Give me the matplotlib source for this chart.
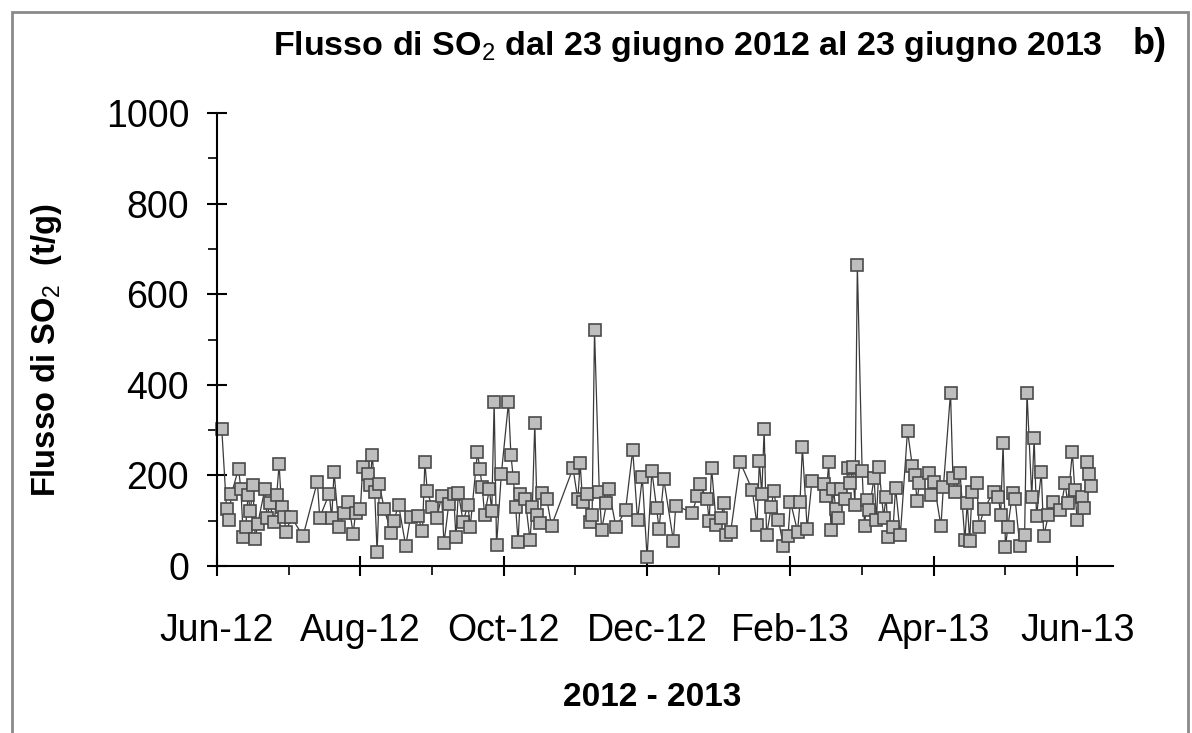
import matplotlib.pyplot as plt
from matplotlib.patches import Rectangle

plt.rcParams['font.family'] = ['Liberation Sans', 'DejaVu Sans']
plt.rcParams['mathtext.fontset'] = 'custom'
plt.rcParams['mathtext.rm'] = 'Liberation Sans'
plt.rcParams['mathtext.bf'] = 'Liberation Sans:bold'

# giorni dal 23 giugno 2012
days = [2, 4, 5, 6, 9, 10, 11, 12, 13, 14, 15, 16, 17, 20, 21, 22, 24, 25, 26, 27, 28, 29, 31, 36, 42, 43,
        47, 48, 49, 51, 53, 55, 57, 58, 60, 61, 63, 64, 65, 66, 67, 68, 70, 73, 74, 76, 79, 81, 84, 86, 87,
        88, 90, 92, 94, 95, 97, 99, 100, 101, 103, 105, 106, 109, 110, 111, 112, 114, 115, 116, 117, 119,
        122, 123, 124, 125, 126, 127, 129, 131, 132, 133, 134, 135, 136, 138, 140, 149, 151, 152, 153, 155,
        156, 157, 158, 160, 161, 163, 164, 167, 171, 174, 176, 178, 180, 182, 184, 185, 187, 191, 192, 199,
        201, 202, 205, 206, 207, 209, 211, 212, 213, 215, 219, 224, 226, 227, 228, 229, 230, 232, 233, 235,
        237, 239, 240, 243, 244, 245, 247, 249, 254, 255, 256, 257, 258, 259, 260, 261, 263, 264, 265, 266,
        267, 268, 270, 271, 272, 273, 275, 276, 277, 279, 280, 281, 283, 284, 286, 289, 291, 292, 293, 294,
        298, 299, 300, 303, 304, 307, 308, 309, 311, 313, 314, 315, 316, 318, 319, 321, 325, 327, 328, 329,
        330, 331, 333, 334, 336, 338, 339, 341, 342, 343, 345, 346, 348, 350, 353, 355, 356, 358, 359, 360,
        362, 363, 364, 365, 366]
# flusso di SO2 (t/g)
flux = [302, 125, 101, 158, 215, 170, 63, 85, 157, 121, 179, 59, 92, 169, 105, 138, 98, 157, 225, 130, 109,
        74, 109, 66, 186, 107, 160, 105, 208, 85, 118, 141, 71, 118, 125, 219, 203, 179, 246, 164, 30, 180,
        125, 72, 99, 135, 44, 109, 111, 77, 229, 166, 130, 105, 155, 50, 137, 160, 63, 162, 98, 135, 87, 251,
        214, 175, 113, 169, 122, 363, 46, 203, 361, 246, 194, 130, 52, 160, 148, 57, 131, 316, 113, 96, 162,
        148, 89, 216, 147, 227, 142, 158, 98, 113, 521, 164, 80, 138, 169, 85, 124, 256, 101, 196, 19, 210,
        127, 82, 191, 56, 133, 118, 155, 182, 149, 99, 216, 91, 105, 138, 68, 76, 229, 168, 91, 232, 158, 302,
        68, 131, 166, 102, 45, 67, 142, 76, 141, 262, 82, 187, 180, 155, 229, 79, 169, 125, 107, 171, 148,
        216, 184, 219, 135, 665, 210, 89, 146, 124, 195, 101, 219, 107, 153, 65, 87, 173, 68, 299, 221, 201,
        144, 183, 205, 157, 185, 88, 174, 383, 195, 164, 205, 57, 140, 55, 164, 183, 87, 125, 164, 153, 113,
        271, 41, 87, 162, 149, 44, 68, 383, 153, 282, 110, 207, 66, 113, 142, 124, 183, 138, 251, 168, 102,
        153, 127, 229, 203, 177]

tick_days = [0, 60, 120, 180, 240, 300, 360]
tick_labels = ["Jun-12", "Aug-12", "Oct-12", "Dec-12", "Feb-13", "Apr-13", "Jun-13"]

W, H = 1192, 733
fig = plt.figure(figsize=(W / 100, H / 100), dpi=100)
fig.patches.append(Rectangle((12 / W, -0.1), 1176 / W, 1.1 - 12 / H, transform=fig.transFigure,
                             fill=False, edgecolor="#8a8a8a", lw=2))

ax = fig.add_axes([217 / W, 167 / H, 896 / W, 453 / H])
ax.plot(days, flux, "-", color="#3a3a3a", lw=0.9, marker="s", ms=9.3, mfc="#bebebe", mec="#4a4a4a",
        mew=1.2, clip_on=False)

ax.set_xlim(0, 375)
ax.set_ylim(0, 1000)
ax.spines["top"].set_visible(False)
ax.spines["right"].set_visible(False)
for s in ["left", "bottom"]:
    ax.spines[s].set_linewidth(1.5)

ax.set_xticks(tick_days)
ax.set_xticklabels(tick_labels)
ax.set_xticks([30, 90, 150, 210, 270, 330], minor=True)
ax.set_yticks(range(0, 1001, 200))
ax.set_yticks(range(100, 1000, 200), minor=True)
ax.tick_params(axis="both", which="major", direction="inout", length=15, width=1.5, labelsize=27)
ax.tick_params(axis="x", which="major", pad=26)
ax.tick_params(axis="y", which="major", pad=12.5)
ax.tick_params(axis="both", which="minor", direction="out", length=6.5, width=1.2)

fig.text(47 / W, 1 - 350 / H, r"Flusso di SO$_2$  (t/g)", rotation=90, ha="center", va="center",
         fontsize=23.5, weight="bold")
fig.text(652 / W, 1 - 698 / H, "2012 - 2013", ha="center", va="center", fontsize=24, weight="bold")
fig.text(688 / W, 1 - 47 / H, r"Flusso di SO$_2$ dal 23 giugno 2012 al 23 giugno 2013", ha="center",
         va="center", fontsize=24.5, weight="bold")
fig.text(1150 / W, 1 - 45 / H, "b)", ha="center", va="center", fontsize=26, weight="bold")

fig.savefig("out.png", dpi=100)
